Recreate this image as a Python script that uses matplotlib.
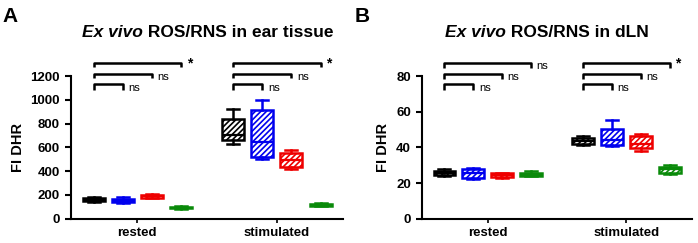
import matplotlib.pyplot as plt

plt.rcParams['font.family'] = ['Liberation Sans', 'DejaVu Sans']
plt.rcParams['hatch.linewidth'] = 1.2

categories = ['rested', 'stimulated']
colors = ['#000000', '#0000ee', '#ee0000', '#0a8a0a']

# box stats per group: [whislo, q1, med, q3, whishi]
ear_rested = [[140, 148, 160, 172, 185], [135, 140, 150, 163, 182],
              [170, 176, 188, 198, 204], [82, 86, 93, 100, 105]]
ear_stim = [[631, 659, 704, 838, 920], [502, 519, 648, 914, 998],
            [418, 437, 490, 549, 578], [103, 108, 115, 125, 129]]
dln_rested = [[24.1, 24.4, 25.4, 26.5, 27.8], [22.2, 23.1, 25.4, 27.8, 28.2],
              [23.1, 23.5, 24.6, 25.4, 25.9], [23.9, 23.9, 24.5, 25.9, 26.7]]
dln_stim = [[41.4, 42.1, 43.8, 45.5, 46.2], [40.7, 41.2, 44.0, 50.3, 55.2],
            [37.9, 39.9, 42.1, 46.2, 47.4], [25.0, 25.7, 27.6, 29.1, 30.2]]

# significance brackets: heights (bar, leg end) and labels, from group 0 to group 1,2,3
ear_brackets = [(1133, 1082), (1217, 1180), (1307, 1273)]
ear_labels_rested = ['ns', 'ns', '*']
ear_labels_stim = ['ns', 'ns', '*']
dln_brackets = [(75.7, 72.4), (81.3, 78.5), (87.3, 84.7)]
dln_labels_rested = ['ns', 'ns', 'ns']
dln_labels_stim = ['ns', 'ns', '*']

offsets = [-0.313, -0.104, 0.104, 0.313]
width = 0.158

fig = plt.figure(figsize=(6.98, 2.43), dpi=100)
renderer = fig.canvas.get_renderer()


def draw_panel(ax, groups, brackets, labels, ymax, ystep, title, letter, tx):
    for ci, grp in enumerate(groups):
        for gi, s in enumerate(grp):
            stats = [dict(whislo=s[0], q1=s[1], med=s[2], q3=s[3], whishi=s[4])]
            c = colors[gi]
            ax.bxp(stats, positions=[ci + offsets[gi]], widths=width,
                   showfliers=False, patch_artist=True, capwidths=width * 0.55,
                   boxprops=dict(facecolor='white', edgecolor=c, linewidth=1.8, hatch='//////'),
                   medianprops=dict(color=c, linewidth=1.6),
                   whiskerprops=dict(color=c, linewidth=1.8),
                   capprops=dict(color=c, linewidth=1.8))
        for k, (hb, hl) in enumerate(brackets):
            x0 = ci + offsets[0]
            x1 = ci + offsets[k + 1]
            ax.plot([x0, x0, x1, x1], [hl, hb, hb, hl], color='black', lw=1.8,
                    clip_on=False, solid_capstyle='butt')
            lab = labels[ci][k]
            if lab == '*':
                ax.text(x1 + 0.04, hb, lab, fontsize=10, fontweight='bold',
                        va='center', ha='left', clip_on=False)
            else:
                ax.text(x1 + 0.04, hl + (hb - hl) * 0.3, lab, fontsize=8,
                        va='center', ha='left', clip_on=False)
    ax.set_xlim(-0.475, 1.475)
    ax.set_ylim(0, ymax)
    ax.set_yticks(range(0, ymax + 1, ystep))
    ax.set_xticks([0, 1])
    ax.set_xticklabels(categories)
    for lbl in ax.get_xticklabels() + ax.get_yticklabels():
        lbl.set_fontweight('bold')
        lbl.set_fontsize(9.5)
    ax.spines['top'].set_visible(False)
    ax.spines['right'].set_visible(False)
    ax.spines['left'].set_linewidth(1.5)
    ax.spines['bottom'].set_linewidth(1.5)
    ax.tick_params(axis='y', length=4, width=1.5, pad=4)
    ax.tick_params(axis='x', length=3, width=1.2, pad=3)
    ax.set_ylabel('FI DHR', fontsize=10.5, fontweight='bold', labelpad=4)

    # title: italic "Ex vivo" + bold rest, centred at tx (axes fraction)
    t1 = ax.text(tx, 1.273, 'Ex vivo', transform=ax.transAxes, fontsize=12.5,
                 fontweight='bold', style='italic', ha='left', va='baseline')
    t2 = ax.annotate(' ' + title, xy=(1, 0), xycoords=t1, fontsize=12.5,
                     fontweight='bold', ha='left', va='bottom')
    w1 = t1.get_window_extent(renderer).width
    w2 = t2.get_window_extent(renderer).width
    axw = ax.get_window_extent(renderer).width
    t1.set_x(tx - (w1 + w2) / 2 / axw)

    ax.text(-0.25, 1.484, letter, transform=ax.transAxes, fontsize=15,
            fontweight='bold', va='top', ha='left')


ax1 = fig.add_axes([0.1017, 0.1, 0.39, 0.587])
ax2 = fig.add_axes([0.6046, 0.1, 0.387, 0.587])

draw_panel(ax1, [ear_rested, ear_stim], ear_brackets,
           [ear_labels_rested, ear_labels_stim], 1200, 200,
           'ROS/RNS in ear tissue', 'A', 0.504)
draw_panel(ax2, [dln_rested, dln_stim], dln_brackets,
           [dln_labels_rested, dln_labels_stim], 80, 20,
           'ROS/RNS in dLN', 'B', 0.463)

fig.savefig('out.png', dpi=100)
